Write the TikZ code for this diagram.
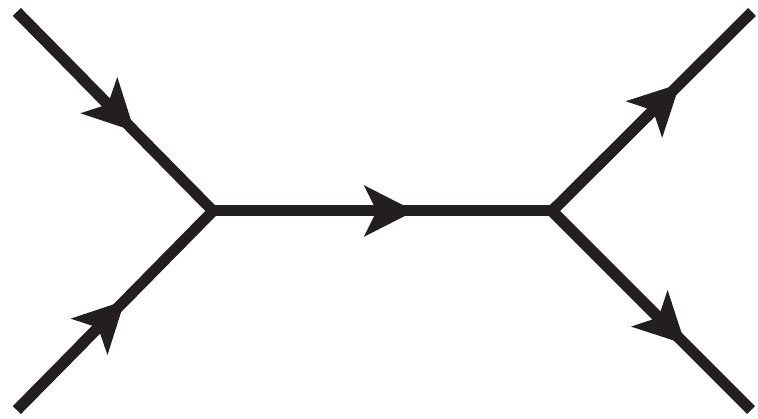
\documentclass[tikz,border=0pt]{standalone}
\usetikzlibrary{arrows.meta,calc}
\definecolor{ink}{RGB}{35,31,32}
\begin{document}
\begin{tikzpicture}[x=1pt,y=-1pt,
  fline/.style={draw=ink,line width=11pt,line join=miter,line cap=butt},
  farrow/.style={fline,-{Stealth[length=50pt,width=50pt,inset=12pt,fill=ink,color=ink]}}]
\useasboundingbox (0,0) rectangle (758,419);
\coordinate (tl) at (17,12);
\coordinate (bl) at (17,410);
\coordinate (v1) at (213,211);
\coordinate (v2) at (552,211);
\coordinate (tr) at (752,12);
\coordinate (br) at (751,410);
\coordinate (t1) at ($(tl)!0.60!(v1)$);
\coordinate (t2) at ($(bl)!0.55!(v1)$);
\coordinate (t3) at ($(v1)!0.595!(v2)$);
\coordinate (t4) at ($(v2)!0.64!(tr)$);
\coordinate (t5) at ($(v2)!0.67!(br)$);
\draw[fline] (tl) -- (v1) -- (bl);
\draw[fline] (v1) -- (v2);
\draw[fline] (tr) -- (v2) -- (br);
\draw[farrow] (tl) -- (t1);
\draw[farrow] (bl) -- (t2);
\draw[farrow] (v1) -- (t3);
\draw[farrow] (v2) -- (t4);
\draw[farrow] (v2) -- (t5);
\end{tikzpicture}
\end{document}
